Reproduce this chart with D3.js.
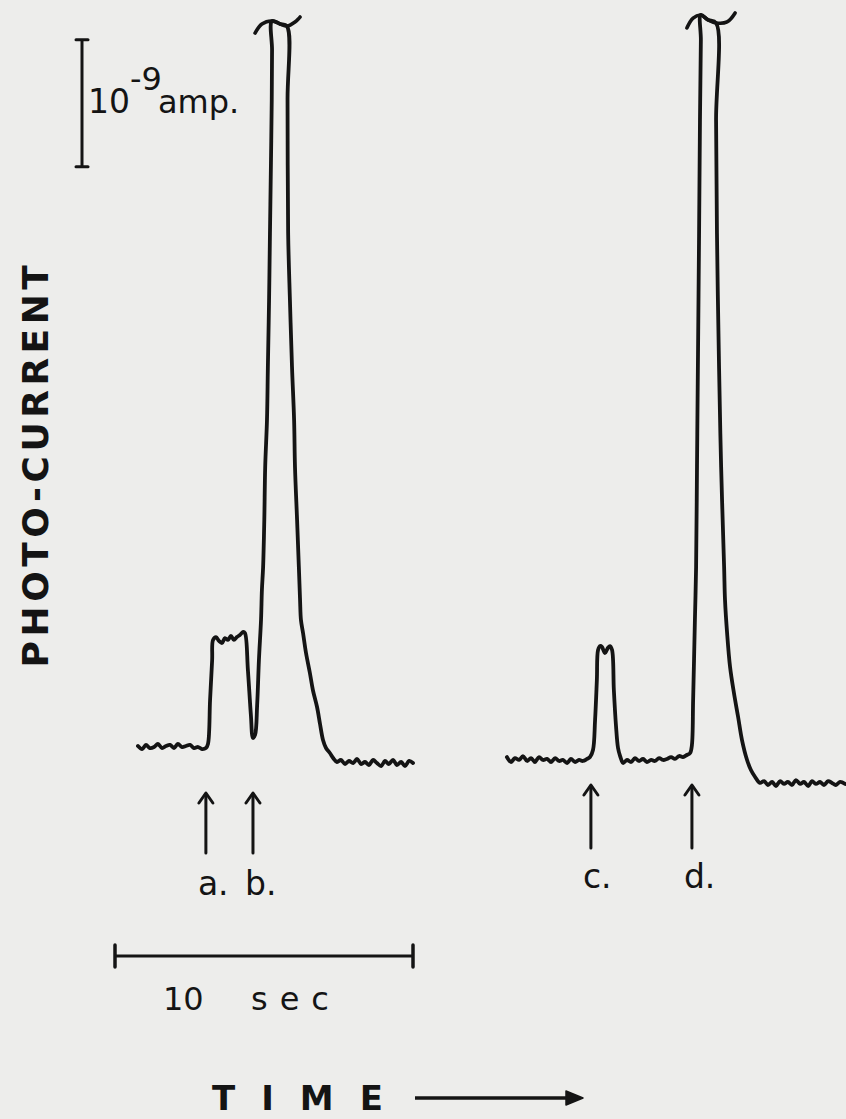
<!DOCTYPE html>
<html>
<head>
<meta charset="utf-8">
<script src="https://cdn.jsdelivr.net/npm/d3@7/dist/d3.min.js"></script>
<style>
  html, body { margin: 0; padding: 0; background: #ededeb; }
  svg { display: block; }
  text { fill: #141414; font-family: "DejaVu Sans", sans-serif; }
</style>
</head>
<body>
<script>
// ---- data: time in seconds, photo-current in units of 1e-9 A ----
const trace1 = [
  [0.77,0.189],[0.91,0.165],[1.04,0.197],[1.17,0.173],[1.31,0.181],[1.44,0.205],[1.58,0.173],[1.71,0.189],
  [1.85,0.197],[1.98,0.173],[2.11,0.205],[2.25,0.181],[2.38,0.189],[2.52,0.197],[2.65,0.173],[2.79,0.181],
  [2.92,0.165],[3.05,0.173],
  [3.12,0.205],[3.19,0.551],[3.26,0.866],[3.29,1.024],
  [3.39,1.047],[3.49,1.016],[3.59,1.000],[3.69,1.039],[3.79,1.024],[3.89,1.055],[3.99,1.024],[4.09,1.047],
  [4.19,1.063],[4.30,1.087],[4.36,1.079],
  [4.46,0.787],[4.56,0.433],[4.63,0.252],[4.70,0.276],[4.77,0.512],[4.83,0.866],[4.90,1.181],[4.93,1.417],
  [4.97,1.598],[5.01,1.969],[5.04,2.386],[5.10,2.756],[5.13,3.173],[5.17,3.701],[5.20,4.228],[5.23,4.724],
  [5.26,5.276],[5.27,5.669],[5.27,5.898],[5.54,5.874],
  [5.77,5.858],[5.79,5.276],[5.81,4.228],[5.87,3.701],[5.94,3.173],[6.01,2.756],[6.04,2.386],[6.11,1.969],
  [6.17,1.598],[6.21,1.339],[6.24,1.181],[6.31,1.079],[6.41,0.921],[6.54,0.764],[6.64,0.630],[6.78,0.496],
  [6.88,0.362],[6.98,0.236],[7.08,0.173],[7.21,0.134],[7.32,0.094],[7.45,0.063],
  [7.58,0.079],[7.72,0.047],[7.85,0.071],[7.99,0.055],[8.12,0.087],[8.26,0.047],[8.39,0.063],[8.52,0.039],
  [8.66,0.079],[8.79,0.055],[8.93,0.031],[9.06,0.071],[9.19,0.047],[9.33,0.079],[9.46,0.039],[9.60,0.063],
  [9.73,0.031],[9.87,0.071],[10.0,0.055]
];
const trace2 = [
  [13.15,0.102],[13.29,0.063],[13.42,0.094],[13.56,0.079],[13.69,0.110],[13.83,0.071],[13.96,0.094],[14.09,0.063],
  [14.23,0.102],[14.36,0.079],[14.50,0.087],[14.63,0.063],[14.77,0.094],[14.90,0.071],[15.03,0.079],[15.17,0.055],
  [15.30,0.087],[15.44,0.063],[15.57,0.079],[15.70,0.071],[15.84,0.087],[15.94,0.102],
  [16.04,0.157],[16.11,0.394],[16.17,0.709],[16.21,0.945],
  [16.28,0.976],[16.34,0.969],[16.44,0.921],[16.54,0.961],[16.61,0.976],[16.68,0.945],
  [16.74,0.630],[16.81,0.354],[16.88,0.173],[16.95,0.110],[17.05,0.055],
  [17.18,0.079],[17.32,0.063],[17.45,0.094],[17.58,0.071],[17.72,0.087],[17.85,0.063],[17.99,0.079],[18.12,0.071],
  [18.26,0.094],[18.39,0.079],[18.52,0.087],[18.66,0.102],[18.79,0.087],[18.93,0.110],[19.06,0.102],[19.19,0.118],
  [19.30,0.134],
  [19.36,0.197],[19.40,0.551],[19.46,1.181],[19.50,1.598],[19.53,2.386],[19.56,3.173],[19.60,4.228],[19.63,5.118],
  [19.66,5.748],[19.66,5.945],[19.90,5.906],
  [20.17,5.882],[20.17,5.118],[20.20,4.228],[20.27,3.173],[20.34,2.386],[20.44,1.598],[20.47,1.339],[20.54,1.079],
  [20.64,0.811],[20.77,0.606],[20.91,0.417],[21.04,0.236],[21.21,0.079],[21.34,0.000],[21.48,-0.055],[21.64,-0.102],
  [21.78,-0.087],[21.91,-0.118],[22.05,-0.094],[22.18,-0.126],[22.32,-0.087],[22.45,-0.110],[22.58,-0.094],[22.72,-0.118],
  [22.85,-0.079],[22.99,-0.110],[23.12,-0.094],[23.26,-0.126],[23.39,-0.087],[23.52,-0.110],[23.66,-0.094],[23.79,-0.118],
  [23.93,-0.087],[24.06,-0.102],[24.19,-0.118],[24.33,-0.094],[24.50,-0.110]
];
// off-scale pen marks at the top of the two large peaks
const tildeB = [[4.70,5.803],[4.93,5.874],[5.27,5.898],[5.54,5.874],[5.77,5.858],[6.04,5.890],[6.21,5.929]];
const tildeD = [[19.19,5.843],[19.40,5.921],[19.66,5.945],[19.90,5.906],[20.17,5.882],[20.54,5.890],[20.81,5.961]];
// event markers
const markerLabels = ["a.", "b.", "c.", "d."];
const markerTimes  = [3.05, 4.63, 15.97, 19.36];
const markerGroups = [0, 0, 1, 1];
// scale bars
const timeBarSeconds = [0, 10];
const timeBarLabel = ["10", "sec"];
const ampBarRange = [4.75, 5.75];
const ampLabel = ["10", "-9", "amp."];
const yTitle = "PHOTO-CURRENT";
const xTitle = "TIME";

// ---- drawing ----
const W = 846, H = 1119;
const ink = "#141414";
const svg = d3.select("body").append("svg").attr("width", W).attr("height", H);
svg.append("rect").attr("width", W).attr("height", H).attr("fill", "#ededeb");

const x = d3.scaleLinear().domain([0, 10]).range([115, 413]);
const y = d3.scaleLinear().domain([0, 1]).range([770, 643]);

const line = d3.line().x(d => x(d[0])).y(d => y(d[1])).curve(d3.curveCatmullRom.alpha(0.5));
const smooth = d3.line().x(d => x(d[0])).y(d => y(d[1])).curve(d3.curveCatmullRom);

[trace1, trace2].forEach(tr => {
  svg.append("path").attr("d", line(tr))
    .attr("fill", "none").attr("stroke", ink).attr("stroke-width", 3.8)
    .attr("stroke-linejoin", "round").attr("stroke-linecap", "round");
});
[tildeB, tildeD].forEach(tr => {
  svg.append("path").attr("d", smooth(tr))
    .attr("fill", "none").attr("stroke", ink).attr("stroke-width", 3.6)
    .attr("stroke-linecap", "round");
});

// event arrows
const groupLayout = [{top: 793, bottom: 853, base: 895}, {top: 785, bottom: 848, base: 888}];
markerTimes.forEach((t, i) => {
  const g = groupLayout[markerGroups[i]];
  const cx = x(t);
  svg.append("line").attr("x1", cx).attr("x2", cx).attr("y1", g.top + 1).attr("y2", g.bottom)
    .attr("stroke", ink).attr("stroke-width", 3).attr("stroke-linecap", "round");
  svg.append("path").attr("d", `M${cx-7},${g.top+10} L${cx},${g.top} L${cx+7},${g.top+10}`)
    .attr("fill", "none").attr("stroke", ink).attr("stroke-width", 3)
    .attr("stroke-linejoin", "round").attr("stroke-linecap", "round");
  svg.append("text").attr("x", cx - 8).attr("y", g.base)
    .attr("font-size", 33).text(markerLabels[i]);
});

// time scale bar
const tbY = 956;
svg.append("line").attr("x1", x(timeBarSeconds[0])).attr("x2", x(timeBarSeconds[1]))
  .attr("y1", tbY).attr("y2", tbY).attr("stroke", ink).attr("stroke-width", 3);
timeBarSeconds.forEach(s => {
  svg.append("line").attr("x1", x(s)).attr("x2", x(s)).attr("y1", tbY - 11).attr("y2", tbY + 11)
    .attr("stroke", ink).attr("stroke-width", 3.5).attr("stroke-linecap", "round");
});
svg.append("text").attr("x", 163).attr("y", 1010).attr("font-size", 32).text(timeBarLabel[0]);
svg.append("text").attr("x", 251).attr("y", 1010).attr("font-size", 32)
  .attr("letter-spacing", 12).text(timeBarLabel[1]);

// current scale bar
const abX = 82;
svg.append("line").attr("x1", abX).attr("x2", abX).attr("y1", y(ampBarRange[0])).attr("y2", y(ampBarRange[1]))
  .attr("stroke", ink).attr("stroke-width", 3);
ampBarRange.forEach(v => {
  svg.append("line").attr("x1", abX - 6).attr("x2", abX + 6).attr("y1", y(v)).attr("y2", y(v))
    .attr("stroke", ink).attr("stroke-width", 3).attr("stroke-linecap", "round");
});
svg.append("text").attr("x", 88).attr("y", 113).attr("font-size", 33).text(ampLabel[0]);
svg.append("text").attr("x", 130).attr("y", 90).attr("font-size", 32).text(ampLabel[1]);
svg.append("text").attr("x", 158).attr("y", 113).attr("font-size", 32).text(ampLabel[2]);

// axis titles
svg.append("text").attr("transform", "translate(48,464) rotate(-90)")
  .attr("text-anchor", "middle").attr("font-size", 36).attr("font-weight", "bold")
  .attr("letter-spacing", 4.5).text(yTitle);
svg.append("text").attr("x", 212).attr("y", 1110).attr("font-size", 34).attr("font-weight", "bold")
  .attr("letter-spacing", 26).text(xTitle);
svg.append("line").attr("x1", 415).attr("x2", 578).attr("y1", 1098).attr("y2", 1098)
  .attr("stroke", ink).attr("stroke-width", 3.5);
svg.append("path").attr("d", "M566,1091 L583,1098 L566,1105 Z").attr("fill", ink)
  .attr("stroke", ink).attr("stroke-width", 1.5).attr("stroke-linejoin", "round");
</script>
</body>
</html>
